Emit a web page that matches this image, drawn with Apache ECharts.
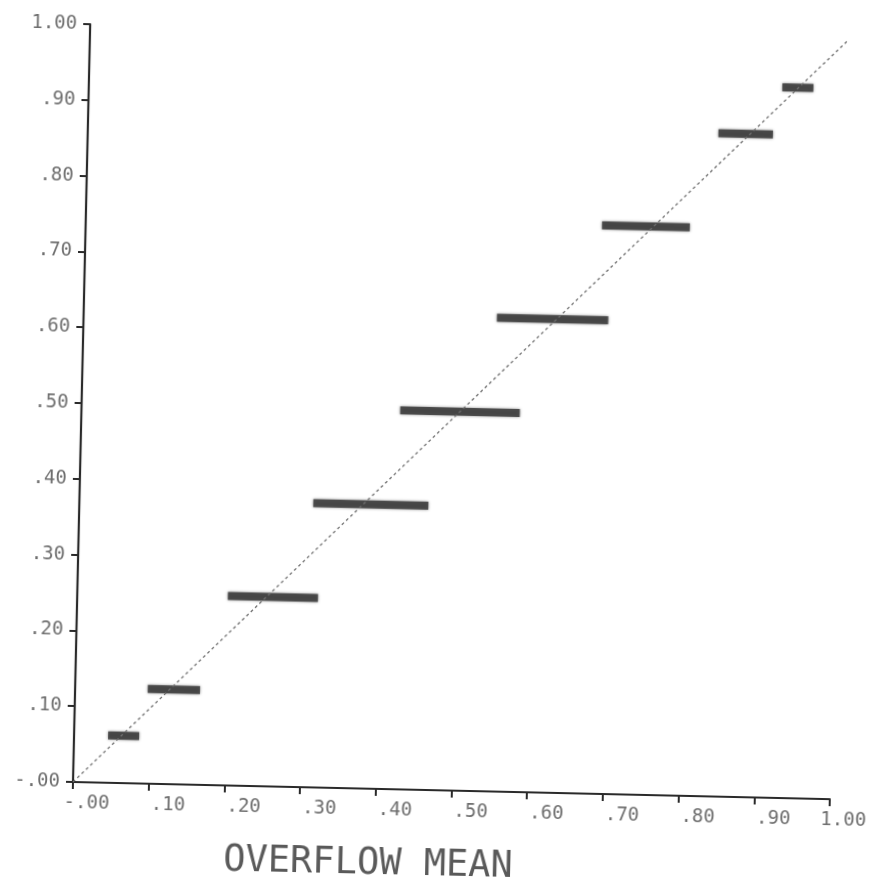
<!DOCTYPE html>
<html>
<head>
<meta charset="utf-8">
<script src="https://cdn.jsdelivr.net/npm/echarts@6/dist/echarts.min.js"></script>
<style>
  html, body { margin: 0; padding: 0; background: #ffffff; overflow: hidden; }
  /* the plotter sheet sits slightly askew on the page */
  #chart { width: 886px; height: 887px; transform: rotate(1.3deg); transform-origin: 73px 782px; }
</style>
</head>
<body>
<div id="chart"></div>
<script>
// Simulated overflow mean vs. expected level: each band is one level
const bandLevels = [0.0625, 0.125, 0.25, 0.375, 0.5, 0.625, 0.75, 0.875, 0.9375];
const bandStart  = [0.045, 0.096, 0.199, 0.309, 0.421, 0.546, 0.682, 0.833, 0.916];
const bandEnd    = [0.086, 0.165, 0.318, 0.461, 0.579, 0.693, 0.798, 0.905, 0.957];

// 45-degree reference line
const refLine = [[0, 0], [1, 1]];

// axis tick labels, one per 0.1 step
const xTickLabels = ['-.00', '.10', '.20', '.30', '.40', '.50', '.60', '.70', '.80', '.90', '1.00'];
const yTickLabels = ['-.00', '.10', '.20', '.30', '.40', '.50', '.60', '.70', '.80', '.90', '1.00'];

const axisTitle = 'OVERFLOW MEAN';

const FONT = 'DejaVu Sans Mono';
const INK = '#2a2a2a';
const LABEL = '#6e6e6e';

const bandData = bandLevels.map((lv, i) => [lv, bandStart[i], bandEnd[i]]);

// pad to four monospace cells so the decimal point always lands just right of the tick
function xLabel(v) {
  const s = xTickLabels[Math.round(v * 10)] || '';
  return s.length < 4 ? ' ' + s : s;
}

const chart = echarts.init(document.getElementById('chart'));
chart.setOption({
  backgroundColor: '#ffffff',
  animation: false,
  title: {
    text: axisTitle,
    left: 220,
    top: 834,
    textStyle: { fontFamily: FONT, fontSize: 37, fontWeight: 'normal', color: '#5a5a5a' }
  },
  grid: { left: 73, top: 24, width: 757, height: 758 },
  xAxis: {
    type: 'value', min: 0, max: 1, interval: 0.1,
    splitLine: { show: false },
    axisLine: { lineStyle: { color: INK, width: 2 } },
    axisTick: { show: true, length: 7, lineStyle: { color: INK, width: 2 } },
    axisLabel: {
      margin: 12,
      align: 'center',
      padding: [0, 0, 0, 28],
      fontFamily: FONT, fontSize: 19, color: LABEL,
      formatter: xLabel
    }
  },
  yAxis: {
    type: 'value', min: 0, max: 1, interval: 0.1,
    splitLine: { show: false },
    axisLine: { lineStyle: { color: INK, width: 2.2 } },
    axisTick: { show: true, length: 7, lineStyle: { color: INK, width: 2 } },
    axisLabel: {
      margin: 13,
      fontFamily: FONT, fontSize: 19, color: LABEL,
      formatter: v => yTickLabels[Math.round(v * 10)] || ''
    }
  },
  series: [
    {
      type: 'line',
      data: refLine,
      symbol: 'none',
      silent: true,
      lineStyle: { color: '#707070', width: 1.3, type: [3, 3] }
    },
    {
      type: 'custom',
      data: bandData,
      encode: { x: [1, 2], y: 0 },
      renderItem: function (params, api) {
        const lv = api.value(0);
        const p0 = api.coord([api.value(1), lv]);
        const p1 = api.coord([api.value(2), lv]);
        return {
          type: 'rect',
          shape: { x: p0[0], y: p0[1] - 4, width: p1[0] - p0[0], height: 8 },
          style: { fill: '#3a3a3a', opacity: 0.85, shadowBlur: 3, shadowColor: 'rgba(0,0,0,0.55)' }
        };
      }
    }
  ]
});
</script>
</body>
</html>
